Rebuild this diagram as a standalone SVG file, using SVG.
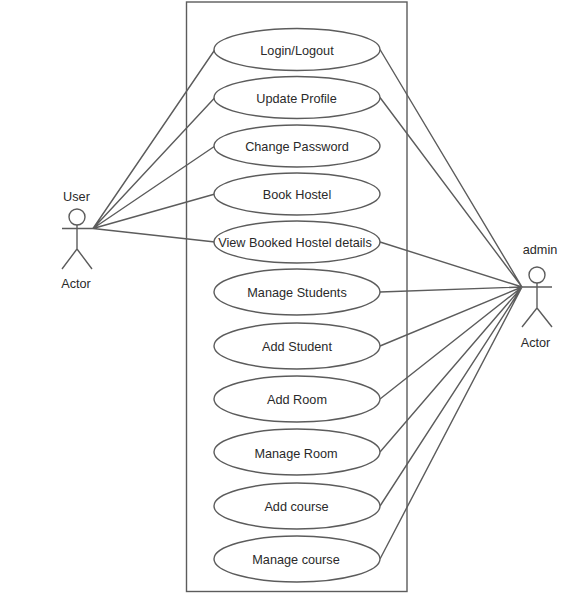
<svg xmlns="http://www.w3.org/2000/svg" width="574" height="594" viewBox="0 0 574 594">
<style>
.s{fill:none;stroke:#5c5c5c;stroke-width:1.4}
.e{fill:#fff;stroke:#5c5c5c;stroke-width:1.4}
text{font-family:"Liberation Sans",Arial,sans-serif;font-size:12.7px;fill:#2a2a2a;text-anchor:middle}
</style>
<rect width="574" height="594" fill="#fff"/>
<g id="boundary"><rect class="s" x="186.500" y="2" width="220.500" height="589.500"/></g>
<g id="connectors" class="s">
<path d="M93 228.500L215 49.500M93 228.500L215 97.500M93 228.500L215 146M93 228.500L215 194M93 228.500L215 242"/>
<path d="M522 287L380 49.500M522 287L380 97.500M522 287L380 242M522 287L380 292M522 287L380 346M522 287L380 399M522 287L380 452M522 287L380 506M522 287L380 559"/>
</g>
<g id="user"><circle class="s" cx="77" cy="217" r="8"/><path class="s" d="M62 228.500H93M77 225V249L62 269M77 249L92 269"/><text x="76.500" y="200.500">User</text><text x="76" y="287.500">Actor</text></g>
<g id="admin"><circle class="s" cx="537" cy="275" r="8"/><path class="s" d="M522 287H552M537 283V308L522 327M537 308L552 327"/><text x="540" y="253.500">admin</text><text x="535.500" y="346.500">Actor</text></g>
<g id="uc1"><ellipse class="e" cx="297" cy="49.500" rx="83" ry="21"/><text x="297" y="54.500">Login/Logout</text></g>
<g id="uc2"><ellipse class="e" cx="297" cy="97.500" rx="83" ry="21"/><text x="296.500" y="102.500">Update Profile</text></g>
<g id="uc3"><ellipse class="e" cx="297" cy="146" rx="83" ry="21"/><text x="297" y="150.500">Change Password</text></g>
<g id="uc4"><ellipse class="e" cx="297" cy="194" rx="83" ry="21"/><text x="297" y="198.500">Book Hostel</text></g>
<g id="uc5"><ellipse class="e" cx="297" cy="242" rx="83" ry="21"/><text x="295" y="246.500">View Booked Hostel details</text></g>
<g id="uc6"><ellipse class="e" cx="297" cy="292" rx="83" ry="23"/><text x="297" y="296.500">Manage Students</text></g>
<g id="uc7"><ellipse class="e" cx="297" cy="346" rx="83" ry="23"/><text x="297" y="350.500">Add Student</text></g>
<g id="uc8"><ellipse class="e" cx="297" cy="399" rx="83" ry="23"/><text x="297" y="403.500">Add Room</text></g>
<g id="uc9"><ellipse class="e" cx="297" cy="452" rx="83" ry="23"/><text x="296" y="457.500">Manage Room</text></g>
<g id="uc10"><ellipse class="e" cx="297" cy="506" rx="83" ry="23"/><text x="296.500" y="510.500">Add course</text></g>
<g id="uc11"><ellipse class="e" cx="297" cy="559" rx="83" ry="23"/><text x="296" y="563.500">Manage course</text></g>
</svg>
